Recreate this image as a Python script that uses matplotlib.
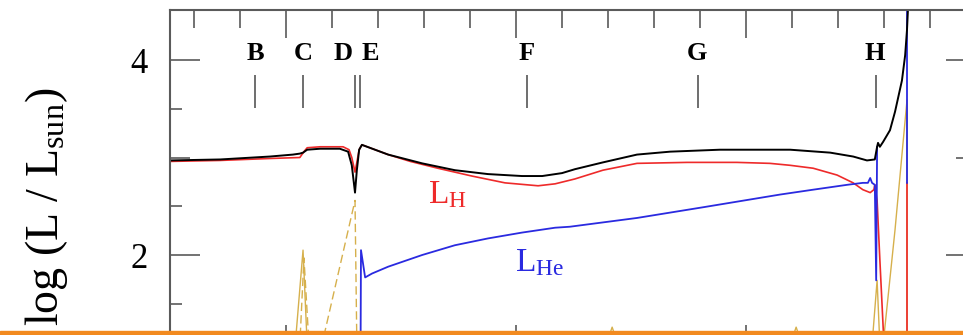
import numpy as np
import matplotlib
matplotlib.use("Agg")
import matplotlib.pyplot as plt
from matplotlib.patches import Rectangle

plt.rcParams["font.family"] = ["Liberation Serif", "DejaVu Serif"]
plt.rcParams["mathtext.fontset"] = "custom"
plt.rcParams["mathtext.rm"] = "Liberation Serif"
plt.rcParams["mathtext.it"] = "Liberation Serif:italic"

nan = np.nan

# total luminosity (black)
total_x = [2.48, 3.57, 4.65, 5.15, 5.30, 5.37, 5.46, 5.74, 6.17, 6.35, 6.43, 6.50,
           6.54, 6.59, 6.65, 7.22, 7.96, 8.67, 9.39, 10.13, 10.57, 11.00, 11.28,
           11.89, 12.63, 13.35, 14.43, 15.96, 16.83, 17.33, 17.63, 17.80, 17.85,
           17.87, 17.91, 17.98, 18.13, 18.24, 18.39, 18.46, 18.50, 18.52]
total_y = [2.97, 2.98, 3.01, 3.03, 3.04, 3.05, 3.08, 3.09, 3.09, 3.06, 2.92, 2.64,
           2.87, 3.08, 3.13, 3.03, 2.94, 2.87, 2.83, 2.81, 2.81, 2.84, 2.88,
           2.95, 3.03, 3.06, 3.08, 3.08, 3.05, 3.01, 2.97, 2.98, 3.11,
           3.15, 3.11, 3.16, 3.28, 3.47, 3.79, 4.05, 4.31, 4.51]

# hydrogen burning (red)
lh_x = [2.48, 3.57, 4.65, 5.30, 5.39, 5.46, 5.74, 6.24, 6.37, 6.43, 6.50, 6.54,
        6.59, 6.65, 7.22, 7.70, 8.30, 9.04, 9.76, 10.48, 10.85, 11.28, 11.89,
        12.63, 13.72, 14.80, 15.52, 15.96, 16.46, 16.98, 17.33, 17.54, 17.70,
        17.78, 17.80, 17.85, 17.91, 18.00, nan, 18.50, 18.50]
lh_y = [2.96, 2.97, 2.99, 3.00, 3.06, 3.10, 3.11, 3.11, 3.08, 3.00, 2.85, 2.95,
        3.08, 3.13, 3.03, 2.96, 2.89, 2.81, 2.74, 2.71, 2.73, 2.78, 2.87,
        2.94, 2.95, 2.95, 2.94, 2.92, 2.89, 2.82, 2.74, 2.67, 2.64,
        2.67, 2.72, 2.56, 1.95, 1.08, nan, 1.08, 2.74]

# helium burning (blue)
lhe_x = [6.62, 6.63, 6.72, 6.87, 7.22, 7.96, 8.67, 9.39, 10.13, 10.85, 11.17,
         12.63, 14.07, 15.74, 16.46, 17.20, 17.54, 17.65, 17.70, 17.74, 17.80,
         17.83, 17.85, nan, 18.50, 18.50]
lhe_y = [0.92, 2.05, 1.77, 1.81, 1.88, 2.00, 2.10, 2.17, 2.23, 2.28, 2.29,
         2.38, 2.49, 2.62, 2.67, 2.72, 2.74, 2.74, 2.79, 2.74, 2.72,
         1.74, 3.11, nan, 2.74, 4.56]

# other sources (tan, solid and dashed)
tan_x = [5.20, 5.37, 5.46, nan, 11.96, 12.09, 12.22, nan, 15.96, 16.09, 16.22, nan,
         17.74, 17.85, 17.91, nan, 17.98, 18.24, 18.50, 18.50]
tan_y = [1.08, 2.05, 1.08, nan, 1.08, 1.26, 1.08, nan, 1.08, 1.26, 1.08, nan,
         1.08, 1.74, 1.08, nan, 1.08, 2.26, 3.59, 1.08]
tan_dash_x = [5.30, 5.39, 5.50, nan, 5.78, 6.50, 6.54]
tan_dash_y = [1.08, 1.97, 1.08, nan, 1.08, 2.56, 1.08]

# phase markers
phase_labels = ["B", "C", "D", "E", "F", "G", "H"]
phase_label_x = [4.33, 5.37, 6.24, 6.83, 10.22, 13.93, 17.80]
mark_x = [4.33, 5.37, 6.50, 6.61, 10.24, 13.96, 17.83]

fig = plt.figure(figsize=(9.63, 3.35), dpi=100)
ax = fig.add_axes([170 / 963, -17.5 / 335, 806 / 963, 342.5 / 335])
ax.set_xlim(2.478, 20)
ax.set_ylim(1.0, 4.513)

ax.plot(tan_x, tan_y, color="#d6b04c", lw=1.0)
ax.plot(tan_dash_x, tan_dash_y, color="#d6b04c", lw=1.0, ls=(0, (6, 3)))
ax.plot(lh_x, lh_y, color="#ee2a2a", lw=1.2)
ax.plot(lhe_x, lhe_y, color="#2a2ae0", lw=1.3)
ax.plot(total_x, total_y, color="black", lw=1.4)

for name, lx in zip(phase_labels, phase_label_x):
    ax.text(lx, 4.07, name, ha="center", va="center", fontsize=19, fontweight="bold")
ax.vlines(mark_x, 3.51, 3.85, color="#555555", lw=1.2)

ax.text(8.52, 2.615, r"L$_\mathrm{H}$", color="#ee2a2a", fontsize=24, ha="center", va="center")
ax.text(10.52, 1.92, r"L$_\mathrm{He}$", color="#2a2ae0", fontsize=24, ha="center", va="center")

gray = "#5a5a5a"
for s in ax.spines.values():
    s.set_color(gray)
    s.set_linewidth(1.5)

ax.xaxis.tick_top()
ax.set_xticks([5, 10, 15, 20])
ax.set_xticks(np.arange(3, 20), minor=True)
ax.set_xticklabels([])
ax.tick_params(axis="x", which="major", direction="in", length=20, width=1.2, color=gray, top=True, bottom=True)
ax.tick_params(axis="x", which="minor", direction="in", length=13, width=1.2, color=gray, top=True, bottom=True)

ax.set_yticks([2, 3, 4])
ax.set_yticklabels(["2", "", "4"])
ax.set_yticks([1.5, 2.5, 3.5], minor=True)
ax.tick_params(axis="y", which="major", direction="in", length=21.6, width=1.2, color=gray,
               left=True, right=True, labelsize=25, pad=16)
ax.tick_params(axis="y", which="minor", direction="in", length=8.6, width=1.2, color=gray,
               left=True, right=True)
for t in ax.yaxis.get_major_ticks():
    if abs(t.get_loc() - 3) < 1e-6:
        t.tick1line.set_markersize(14.4)
        t.tick2line.set_markersize(14.4)

fig.text(47 / 963, 1 - 88 / 335, r"log (L / L$_\mathrm{sun}$)", rotation=90,
         ha="center", va="top", fontsize=33)

fig.add_artist(Rectangle((0, 0), 1, 4 / 335, transform=fig.transFigure,
                         color="#f28a1f", zorder=10))

fig.savefig("out.png", dpi=100)
